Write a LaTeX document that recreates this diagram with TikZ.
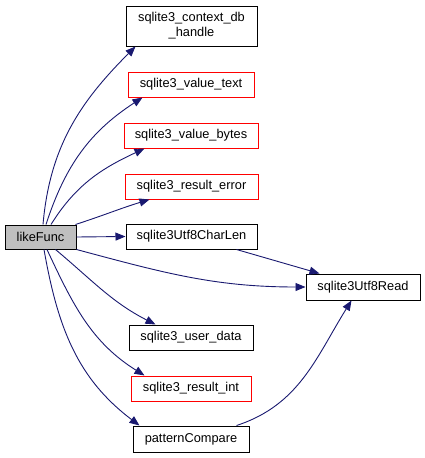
\documentclass[tikz,border=0pt]{standalone}
\usepackage{fontspec}
\setmainfont{Liberation Sans}
\usetikzlibrary{arrows.meta}
\definecolor{edgeblue}{HTML}{191970}
\definecolor{boxgray}{HTML}{BFBFBF}
\begin{document}
\begin{tikzpicture}[x=1pt,y=-1pt,
  fn/.style={draw=black, line width=1pt, inner sep=0pt, font=\fontsize{12.8}{15}\selectfont, align=center},
  redfn/.style={fn, draw=red},
  call/.style={draw=edgeblue, line width=0.9pt, -{Triangle[length=10pt,width=8pt]}, color=edgeblue}]
\useasboundingbox (0,0) rectangle (425,458);
\node[fn, fill=boxgray, minimum width=71pt, minimum height=24pt] (like) at (40.5,237) {likeFunc};
\node[fn, minimum width=131pt, minimum height=40pt] (ctx) at (191.5,26) {sqlite3\_context\_db\\\_handle};
\node[redfn, minimum width=126pt, minimum height=25pt] (vtext) at (191,84.5) {sqlite3\_value\_text};
\node[redfn, minimum width=134pt, minimum height=25pt] (vbytes) at (191,135.5) {sqlite3\_value\_bytes};
\node[redfn, minimum width=133pt, minimum height=25pt] (rerr) at (191.5,186.5) {sqlite3\_result\_error};
\node[fn, minimum width=131pt, minimum height=25pt] (clen) at (191.5,236.5) {sqlite3Utf8CharLen};
\node[fn, minimum width=114pt, minimum height=26pt] (uread) at (363,287) {sqlite3Utf8Read};
\node[fn, minimum width=124pt, minimum height=25pt] (udata) at (191,337.5) {sqlite3\_user\_data};
\node[redfn, minimum width=120pt, minimum height=25pt] (rint) at (191,388.5) {sqlite3\_result\_int};
\node[fn, minimum width=116pt, minimum height=26pt] (pcmp) at (191,439) {patternCompare};

\draw[call] ([xshift=2.5pt]like.north) to[out=85,in=225] ([xshift=10pt]ctx.south west);
\draw[call] ([xshift=5.5pt]like.north) to[out=72,in=213] ([xshift=15pt]vtext.south west);
\draw[call] ([xshift=10.5pt]like.north) to[out=58,in=205] ([xshift=21pt]vbytes.south west);
\draw[call] ([xshift=-1pt]like.north east) to[out=18,in=197] ([xshift=25pt]rerr.south west);
\draw[call] (like.east) -- (clen.west);
\draw[call] (like.south east) to[out=-15,in=180] (uread.west);
\draw[call] ([xshift=-21pt]clen.south east) -- ([xshift=14pt]uread.north west);
\draw[call] ([xshift=15pt]like.south) to[out=-40,in=153] ([xshift=27pt]udata.north west);
\draw[call] ([xshift=6.5pt]like.south) to[out=-65,in=148] ([xshift=14pt]rint.north west);
\draw[call] ([xshift=3.5pt]like.south) to[out=-80,in=143] ([xshift=7pt]pcmp.north west);
\draw[call] ([xshift=-13pt]pcmp.north east) to[out=18,in=238] ([xshift=46pt]uread.south west);
\end{tikzpicture}
\end{document}
